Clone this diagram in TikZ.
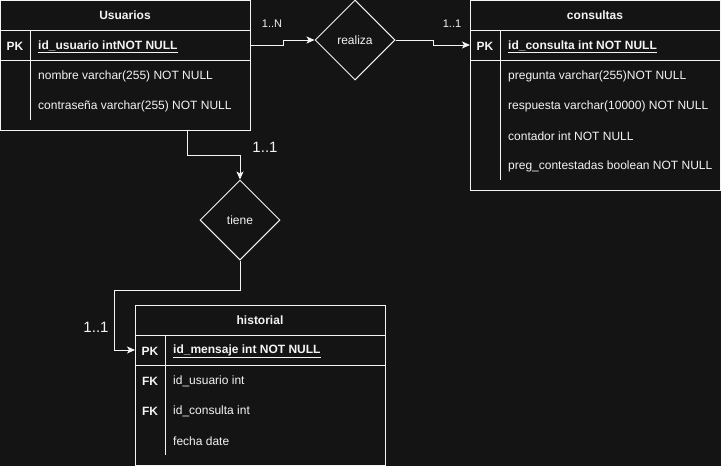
\documentclass[tikz,border=0pt]{standalone}
\usepackage{fontspec}
\setmainfont{Liberation Sans}
\usetikzlibrary{arrows.meta,shapes.geometric}
\definecolor{bgc}{HTML}{141414}
\definecolor{fg}{HTML}{F4F4F4}
\tikzset{
  tbl/.style={draw=fg, line width=1pt, rectangle, inner sep=0pt, outer sep=0pt, anchor=north west},
  sep/.style={draw=fg, line width=1pt},
  ttl/.style={text=fg, font=\bfseries\fontsize{12}{14}\selectfont, inner sep=0pt},
  fld/.style={text=fg, font=\fontsize{12}{14}\selectfont, anchor=west, inner sep=0pt, yshift=-1.5pt},
  keyf/.style={text=fg, font=\bfseries\fontsize{12}{14}\selectfont, inner sep=0pt, yshift=-1pt},
  rel/.style={diamond, draw=fg, line width=1pt, minimum width=80pt, minimum height=80pt, inner sep=0pt, aspect=1, text=fg, font=\fontsize{12}{14}\selectfont},
  conn/.style={draw=fg, line width=1pt, -{Stealth[length=8pt,width=7pt,inset=2pt]}},
  cardS/.style={text=fg, font=\fontsize{11}{13}\selectfont, inner sep=0pt},
  cardL/.style={text=fg, font=\fontsize{15}{17}\selectfont, inner sep=0pt}
}
\begin{document}
\begin{tikzpicture}[x=1pt,y=-1pt]
\fill[bgc] (0,0) rectangle (721,466);
\useasboundingbox (0,0) rectangle (721,466);

% Usuarios
\node[tbl, minimum width=249.5pt, minimum height=129.5pt] (usuarios) at (0.5,0.5) {};
\draw[sep] (0.5,30) -- (250,30);
\draw[sep] (0.5,60) -- (250,60);
\draw[sep] (30.5,30) -- (30.5,120);
\node[ttl] (uttl) at (125,15) {Usuarios};
\node[keyf] (upk) at (15,45) {PK};
\node[fld, font=\bfseries\fontsize{12}{14}\selectfont] (uid) at (38,45) {\underline{id\_usuario intNOT NULL}};
\node[fld] (unom) at (38,75) {nombre varchar(255) NOT NULL};
\node[fld] (upass) at (38,105) {contraseña varchar(255) NOT NULL};

% consultas
\node[tbl, minimum width=250pt, minimum height=189.5pt] (consultas) at (470,0.5) {};
\draw[sep] (470,30) -- (720,30);
\draw[sep] (470,60) -- (720,60);
\draw[sep] (500.5,30) -- (500.5,180);
\node[ttl] (cttl) at (595,15) {consultas};
\node[keyf] (cpk) at (485,45) {PK};
\node[fld, font=\bfseries\fontsize{12}{14}\selectfont] (cid) at (508,45) {\underline{id\_consulta int NOT NULL}};
\node[fld] (cpreg) at (508,75) {pregunta varchar(255)NOT NULL};
\node[fld] (cresp) at (508,105) {respuesta varchar(10000) NOT NULL};
\node[fld] (ccont) at (508,135) {contador int NOT NULL};
\node[fld] (cpc) at (508,165) {preg\_contestadas boolean NOT NULL};

% historial
\node[tbl, minimum width=250pt, minimum height=160pt] (historial) at (135,305) {};
\draw[sep] (135,335) -- (385,335);
\draw[sep] (135,365) -- (385,365);
\draw[sep] (165.5,335) -- (165.5,455);
\node[ttl] (httl) at (260,320) {historial};
\node[keyf] (hpk) at (150,350) {PK};
\node[fld, font=\bfseries\fontsize{12}{14}\selectfont] (hid) at (173,350) {\underline{id\_mensaje int NOT NULL}};
\node[keyf] (hfk1) at (150,380) {FK};
\node[fld] (hus) at (173,380) {id\_usuario int};
\node[keyf] (hfk2) at (150,410) {FK};
\node[fld] (hco) at (173,410) {id\_consulta int};
\node[fld] (hfe) at (173,440) {fecha date};

% relations
\node[rel] (realiza) at (355,40) {realiza};
\node[rel] (tiene) at (240,220) {tiene};

% connectors
\coordinate (urow) at (250,45);
\coordinate (crow) at (470,45);
\coordinate (hrow) at (135,350);
\draw[conn] (urow) -- ++(33,0) |- (realiza.west);
\draw[conn] (realiza.east) -- ++(38,0) |- (crow);
\draw[conn] ([xshift=-62.5pt]usuarios.south east) -- ++(0,25) -| (tiene.north);
\coordinate (hbend) at (114,350);
\draw[conn] (tiene.south) -- ++(0,30) -| (hbend) -- (hrow);

% cardinalities
\node[cardS] (c1) at (272,24) {1..N};
\node[cardS] (c2) at (452,24) {1..1};
\node[cardL] (c3) at (265,147) {1..1};
\node[cardL] (c4) at (96,327) {1..1};
\end{tikzpicture}
\end{document}
